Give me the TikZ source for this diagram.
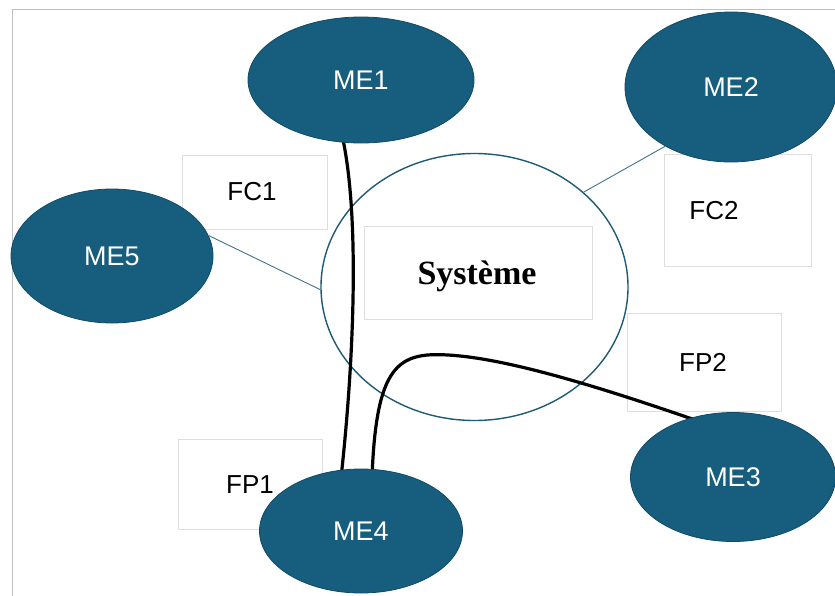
\documentclass[tikz,border=0pt]{standalone}
\usepackage{fontspec}
\setmainfont{Liberation Sans}
\newfontfamily\serifbold{Liberation Serif}
\usetikzlibrary{shapes.geometric}
\definecolor{meblue}{RGB}{22,93,126}
\definecolor{meedge}{RGB}{16,74,104}
\definecolor{syscol}{RGB}{30,90,118}
\definecolor{boxgray}{RGB}{222,222,222}

\begin{document}
\begin{tikzpicture}[
    x=1pt, y=-1pt,
    me/.style={ellipse, fill=meblue, draw=meedge, line width=0.8pt, inner sep=0pt,
               text=white, font=\fontsize{27}{31}\selectfont},
    sys/.style={ellipse, draw=syscol, line width=1.4pt, inner sep=0pt},
    lbox/.style={rectangle, draw=boxgray, line width=0.6pt, fill=white, inner sep=0pt},
    lbl/.style={font=\fontsize{26}{30}\selectfont, inner sep=0pt},
    link/.style={line width=3.2pt, black},
    thin link/.style={line width=0.9pt, syscol!85}
]
\clip (0,0) rectangle (835,595);
\fill[white] (0,0) rectangle (835,595);
\draw[gray!50, line width=1pt] (12,9) rectangle (900,650);

% label boxes
\node[lbox, minimum width=145, minimum height=74] (fc1box) at (254.5,192) {};
\node[lbox, minimum width=147, minimum height=112] (fc2box) at (737.5,210) {};
\node[lbox, minimum width=154, minimum height=98] (fp2box) at (704,362) {};
\node[lbox, minimum width=144, minimum height=90] (fp1box) at (250,484) {};

% system
\node[sys, minimum width=307, minimum height=267] (sys) at (474.5,287) {};
\node[lbox, minimum width=228, minimum height=93] (sysbox) at (478,272.5) {};
\node[inner sep=0pt, font=\serifbold\bfseries\fontsize{34}{38}\selectfont] (systxt) at (477,276) {Système};

\node[lbl] (fc1) at (252,192) {FC1};
\node[lbl] (fc2) at (714,211) {FC2};
\node[lbl] (fp2) at (703,362) {FP2};
\node[lbl] (fp1) at (250,485) {FP1};

% links (drawn before the ellipses)
\coordinate (me1end) at (342,135);
\coordinate (me4endA) at (341,478);
\coordinate (me4endB) at (372,478);
\coordinate (me3end) at (698,421);
\draw[link] (me1end) .. controls (360,215) and (354,360) .. (me4endA);
\draw[link] (me4endB) .. controls (376,365) and (398,352) .. (448,355)
            .. controls (500,358) and (580,380) .. (me3end);

% external elements
\node[me, minimum width=226, minimum height=126] (me1) at (361,80) {ME1};
\node[me, minimum width=212, minimum height=150] (me2) at (731,87) {ME2};
\node[me, minimum width=202, minimum height=134] (me5) at (112,256) {ME5};
\node[me, minimum width=203, minimum height=124] (me4) at (361,531) {ME4};
\node[me, minimum width=205, minimum height=129] (me3) at (733,477) {ME3};

\draw[thin link] (me5.12) -- (sys.181);
\draw[thin link] (sys.41) -- (me2.222);
\end{tikzpicture}
\end{document}
